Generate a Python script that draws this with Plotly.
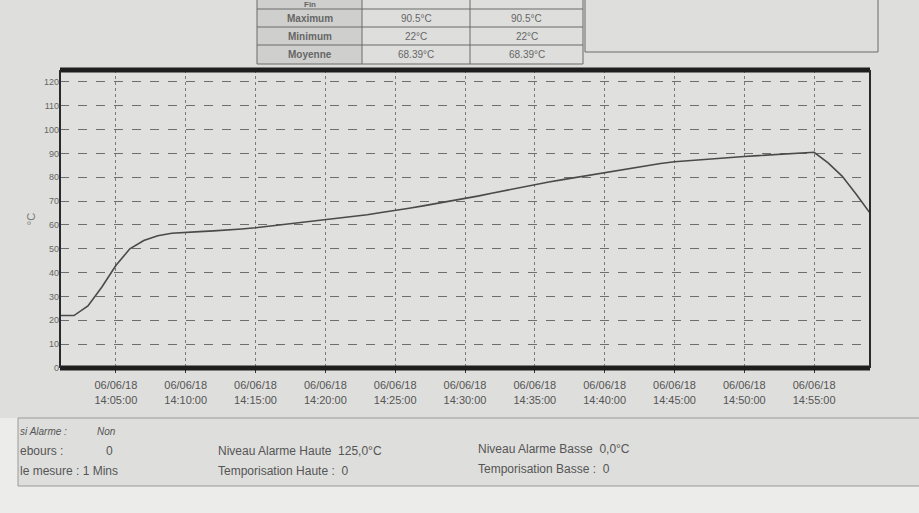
import plotly.graph_objects as go

# ---- data ----
times = [f"2018-06-06 14:{m:02d}:00" for m in range(1, 60)]
temps = [22, 22, 26, 34, 43, 50, 53.5, 55.5, 56.5, 57,
         57.2, 57.5, 57.8, 58.3, 58.8, 59.5, 60.2, 60.8, 61.4, 62,
         62.7, 63.5, 64.3, 65.2, 66, 67, 68, 69, 70, 71,
         72.2, 73.4, 74.6, 75.8, 77, 78, 79, 80, 81, 82,
         83, 84, 85, 85.8, 86.5, 87, 87.5, 88, 88.3, 88.7,
         89.1, 89.5, 90, 90.3, 90.5, 86, 80.5, 73, 65]

tick_times = ["2018-06-06 14:05:00", "2018-06-06 14:10:00", "2018-06-06 14:15:00",
              "2018-06-06 14:20:00", "2018-06-06 14:25:00", "2018-06-06 14:30:00",
              "2018-06-06 14:35:00", "2018-06-06 14:40:00", "2018-06-06 14:45:00",
              "2018-06-06 14:50:00", "2018-06-06 14:55:00"]
tick_labels = ["06/06/18<br>14:05:00", "06/06/18<br>14:10:00", "06/06/18<br>14:15:00",
               "06/06/18<br>14:20:00", "06/06/18<br>14:25:00", "06/06/18<br>14:30:00",
               "06/06/18<br>14:35:00", "06/06/18<br>14:40:00", "06/06/18<br>14:45:00",
               "06/06/18<br>14:50:00", "06/06/18<br>14:55:00"]
y_ticks = [0, 10, 20, 30, 40, 50, 60, 70, 80, 90, 100, 110, 120]

table_rows = ["Fin", "Maximum", "Minimum", "Moyenne"]
table_col1 = ["", "90.5°C", "22°C", "68.39°C"]
table_col2 = ["", "90.5°C", "22°C", "68.39°C"]

# ---- geometry helpers (pixel -> paper) ----
W, H = 919, 513
L, R, T, B = 60, 49, 70, 145
PW, PH = W - L - R, H - T - B


def px(x):
    return (x - L) / PW


def py(y):
    return (H - B - y) / PH


TXT = "#555555"
FONT = "Liberation Sans, Arial, sans-serif"
BG = "#dededc"

fig = go.Figure()
fig.add_trace(go.Scatter(x=times, y=temps, mode="lines",
                         line=dict(color="#4a4a4a", width=1.6),
                         showlegend=False, hoverinfo="skip"))

shapes = []
annotations = []

# plot frame
shapes.append(dict(type="line", xref="paper", yref="paper", x0=0, x1=1, y0=1, y1=1,
                   line=dict(color="#1e1e1e", width=5)))
shapes.append(dict(type="line", xref="paper", yref="paper", x0=0, x1=1, y0=0, y1=0,
                   line=dict(color="#1e1e1e", width=5)))
shapes.append(dict(type="line", xref="paper", yref="paper", x0=0, x1=0, y0=0, y1=1,
                   line=dict(color="#2a2a2a", width=2)))
shapes.append(dict(type="line", xref="paper", yref="paper", x0=1, x1=1, y0=0, y1=1,
                   line=dict(color="#2a2a2a", width=2)))

# table
col_x = [257, 362, 470, 583]
row_y = [-10, 9, 27, 45, 64]
row_text_y = [4, 18, 36, 54.5]
shapes.append(dict(type="rect", xref="paper", yref="paper",
                   x0=px(col_x[0]), x1=px(col_x[1]), y0=py(row_y[-1]), y1=py(row_y[0]),
                   fillcolor="#cfcfcd", line=dict(width=0), layer="below"))
for yv in row_y[1:]:
    shapes.append(dict(type="line", xref="paper", yref="paper",
                       x0=px(col_x[0]), x1=px(col_x[-1]), y0=py(yv), y1=py(yv),
                       line=dict(color="#6a6a6a", width=1)))
for xv in col_x:
    shapes.append(dict(type="line", xref="paper", yref="paper",
                       x0=px(xv), x1=px(xv), y0=py(row_y[0]), y1=py(row_y[-1]),
                       line=dict(color="#6a6a6a", width=1)))
for i, name in enumerate(table_rows):
    yc = py(row_text_y[i])
    fs = 8 if i == 0 else 10
    for xc, s in ((px((col_x[0] + col_x[1]) / 2), f"<b>{name}</b>"),
                  (px((col_x[1] + col_x[2]) / 2), table_col1[i]),
                  (px((col_x[2] + col_x[3]) / 2), table_col2[i])):
        if not s:
            continue
        annotations.append(dict(x=xc, y=yc, xref="paper", yref="paper",
                                text=s, showarrow=False, xanchor="center", yanchor="middle",
                                font=dict(family=FONT, size=fs, color="#666666")))

# top-right box
shapes.append(dict(type="rect", xref="paper", yref="paper",
                   x0=px(585), x1=px(878), y0=py(52), y1=py(-10),
                   line=dict(color="#6a6a6a", width=1)))

# bottom info box
shapes.append(dict(type="line", xref="paper", yref="paper", x0=px(18), x1=px(919),
                   y0=py(418), y1=py(418), line=dict(color="#9a9a9a", width=1)))
shapes.append(dict(type="line", xref="paper", yref="paper", x0=px(18), x1=px(919),
                   y0=py(486), y1=py(486), line=dict(color="#9a9a9a", width=1)))
shapes.append(dict(type="line", xref="paper", yref="paper", x0=px(18), x1=px(18),
                   y0=py(418), y1=py(486), line=dict(color="#9a9a9a", width=1)))
shapes.append(dict(type="rect", xref="paper", yref="paper", x0=px(0), x1=px(18),
                   y0=py(513), y1=py(418), fillcolor="#ececea", line=dict(width=0), layer="below"))
shapes.append(dict(type="rect", xref="paper", yref="paper", x0=px(0), x1=px(919),
                   y0=py(513), y1=py(486), fillcolor="#ececea", line=dict(width=0), layer="below"))


def txt(x, y, s, size=12, italic=False):
    if italic:
        s = f"<i>{s}</i>"
    annotations.append(dict(x=px(x), y=py(y), xref="paper", yref="paper", text=s,
                            showarrow=False, xanchor="left", yanchor="middle",
                            font=dict(family=FONT, size=size, color=TXT)))


txt(18, 431, "si Alarme :", size=10, italic=True)
txt(95, 431, "Non", size=10, italic=True)
txt(18, 451, "ebours :")
txt(104, 451, "0")
txt(18, 471, "le mesure : 1 Mins")
txt(216, 451, "Niveau Alarme Haute&nbsp;&nbsp;125,0°C")
txt(216, 471, "Temporisation Haute :&nbsp;&nbsp;0")
txt(476, 449, "Niveau Alarme Basse&nbsp;&nbsp;0,0°C")
txt(476, 469, "Temporisation Basse :&nbsp;&nbsp;0")

fig.update_layout(
    width=W, height=H,
    margin=dict(l=L, r=R, t=T, b=B),
    paper_bgcolor=BG,
    plot_bgcolor="#e0e0de",
    font=dict(family=FONT, color=TXT),
    shapes=shapes,
    annotations=annotations,
    xaxis=dict(
        type="date",
        range=["2018-06-06 14:01:00", "2018-06-06 14:59:00"],
        tickvals=tick_times, ticktext=tick_labels,
        tickfont=dict(family=FONT, size=11, color=TXT),
        showgrid=True, gridcolor="#7a7a7a", griddash="dot", gridwidth=1,
        ticks="outside", ticklen=4, tickcolor="#333",
        ticklabelstandoff=3,
        zeroline=False, showline=False,
    ),
    yaxis=dict(
        range=[0, 125],
        tickvals=y_ticks,
        tickfont=dict(family=FONT, size=9, color="#666666"),
        showgrid=True, gridcolor="#6e6e6e", griddash="dash", gridwidth=1,
        zeroline=False, showline=False,
        title=dict(text="°C", font=dict(family=FONT, size=11, color="#777777"), standoff=6),
    ),
)

fig.write_html("out.html",
               config={"displayModeBar": False},
               post_script="document.body.style.margin='0px';"
                           "document.body.style.background='" + BG + "';")
